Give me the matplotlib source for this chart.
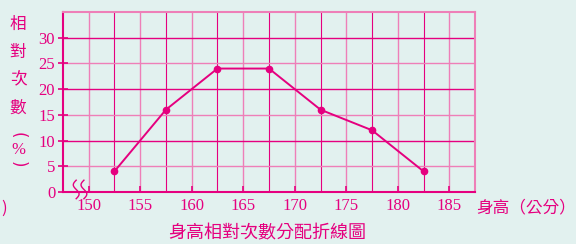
import matplotlib.pyplot as plt
import numpy as np

# 身高組中點與相對次數
heights = [152.5, 157.5, 162.5, 167.5, 172.5, 177.5, 182.5]
rel_freq = [4, 16, 24, 24, 16, 12, 4]
x_ticks = [150, 155, 160, 165, 170, 175, 180, 185]
y_ticks = [0, 5, 10, 15, 20, 25, 30]

pink = '#e5007f'
light = '#ee7fb8'
bg = '#e2f1ef'
cjk = ['Noto Sans CJK TC', 'DejaVu Sans']

fig = plt.figure(figsize=(5.76, 2.44), dpi=100, facecolor=bg)
ax = fig.add_axes([0.109, 0.213, 0.716, 0.738], facecolor=bg)
ax.set_xlim(147.5, 187.5)
ax.set_ylim(0, 35)

# 格線
for gx in np.arange(150, 187.5, 2.5):
    c = light if gx % 5 == 0 else pink
    ax.axvline(gx, color=c, lw=1.0 if gx % 5 == 0 else 0.8, zorder=1)
for gy in np.arange(5, 35, 5):
    c = light if gy % 10 == 5 else pink
    ax.axhline(gy, color=c, lw=1.0, zorder=1)

ax.plot(heights, rel_freq, color=pink, lw=1.4, marker='o', ms=4.5, zorder=3)

for s in ['left', 'bottom']:
    ax.spines[s].set_color(pink)
    ax.spines[s].set_linewidth(1.5)
for s in ['top', 'right']:
    ax.spines[s].set_color(light)
    ax.spines[s].set_linewidth(1.5)

ax.set_xticks(x_ticks)
ax.set_yticks(y_ticks)
ax.tick_params(axis='x', direction='in', length=4, width=1.2, color=pink,
               labelcolor=pink, labelsize=12, pad=4)
ax.tick_params(axis='y', direction='inout', length=7, width=1.2, color=pink,
               labelcolor=pink, labelsize=12, pad=2)
for lab in ax.get_xticklabels() + ax.get_yticklabels():
    lab.set_fontfamily('Liberation Serif')

# 斷軸符號
t = np.linspace(0, 1, 40)
for off in [0, 0.75]:
    ax.plot(148.8 + off + 0.28 * np.sin(t * 2 * np.pi), -1.3 + 3.6 * t,
            color=pink, lw=1.0, clip_on=False, zorder=4)

# 縱軸標題
ychars = ['相', '對', '次', '數']
ypos = [24, 52, 80, 108]
for ch, yp in zip(ychars, ypos):
    fig.text(18 / 576, 1 - yp / 244, ch, color=pink, fontsize=12,
             family=cjk, ha='center', va='center')
fig.text(18 / 576, 1 - 135 / 244, '(', color=pink, fontsize=12,
         family='DejaVu Sans', rotation=270, ha='center', va='center')
fig.text(18 / 576, 1 - 150 / 244, '%', color=pink, fontsize=12,
         family='Liberation Serif', ha='center', va='center')
fig.text(18 / 576, 1 - 164 / 244, ')', color=pink, fontsize=12,
         family='DejaVu Sans', rotation=270, ha='center', va='center')
fig.text(4 / 576, 1 - 208 / 244, ')', color=pink, fontsize=12,
         family=cjk, ha='center', va='center')

fig.text(476 / 576, 1 - 208 / 244, '身高（公分）', color=pink, fontsize=12,
         family=cjk, ha='left', va='center')
fig.text(267 / 576, 1 - 233 / 244, '身高相對次數分配折線圖', color=pink,
         fontsize=13, family=cjk, ha='center', va='center')

plt.savefig('out.png', dpi=100, facecolor=bg)
plt.close()
